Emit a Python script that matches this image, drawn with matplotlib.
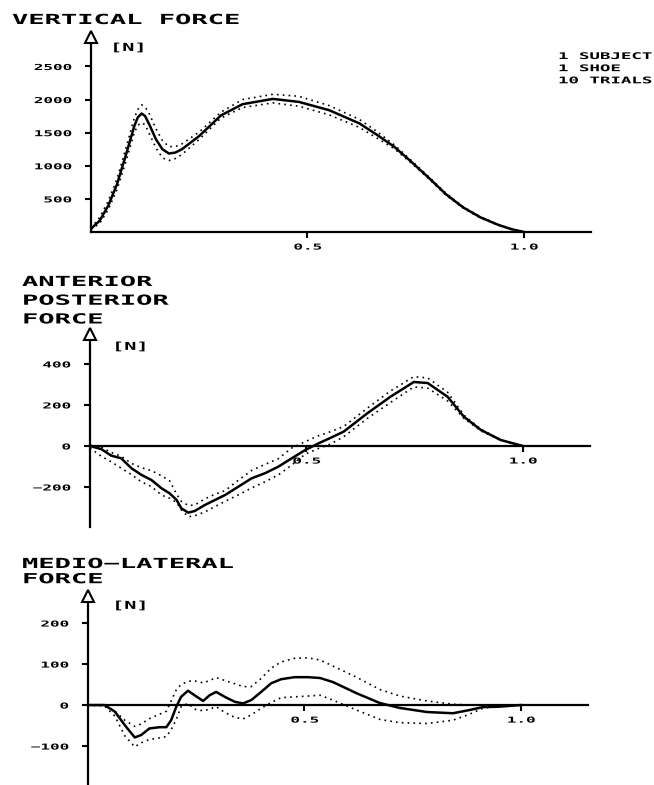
import numpy as np
import matplotlib
matplotlib.use("Agg")
import matplotlib.pyplot as plt
from matplotlib.patheffects import AbstractPathEffect
from matplotlib.transforms import Affine2D

plt.rcParams['font.family'] = 'DejaVu Sans Mono'
plt.rcParams['font.weight'] = 'bold'

# vertical force [N], mean and +/- 1 sd of 10 trials
t_vert = [0, 0.02, 0.04, 0.06, 0.08, 0.10, 0.108, 0.117, 0.125, 0.135, 0.15, 0.165, 0.18, 0.195, 0.21,
          0.25, 0.30, 0.35, 0.42, 0.48, 0.55, 0.62, 0.66, 0.70, 0.74, 0.78, 0.82, 0.86, 0.90, 0.94,
          0.97, 1.0]
vert_mean = [50, 170, 400, 720, 1150, 1600, 1730, 1790, 1750, 1620, 1400, 1250, 1185, 1200, 1250,
             1450, 1760, 1930, 2010, 1965, 1840, 1640, 1470, 1290, 1060, 820, 570, 370, 220, 110,
             45, 0]
vert_hi = [60, 220, 470, 800, 1250, 1720, 1850, 1920, 1890, 1780, 1560, 1380, 1290, 1290, 1330,
           1510, 1810, 2000, 2080, 2050, 1910, 1700, 1520, 1320, 1080, 835, 585, 380, 228, 115,
           48, 0]
vert_lo = [40, 130, 340, 640, 1050, 1500, 1610, 1650, 1620, 1480, 1270, 1120, 1080, 1110, 1170,
           1400, 1720, 1880, 1950, 1900, 1770, 1580, 1420, 1260, 1040, 805, 555, 360, 212, 105,
           42, 0]

# anterior-posterior force [N]
t_ap = [0, 0.026, 0.049, 0.072, 0.096, 0.119, 0.142, 0.165, 0.184, 0.2, 0.211, 0.227, 0.242, 0.265,
        0.289, 0.312, 0.343, 0.373, 0.404, 0.435, 0.466, 0.497, 0.528, 0.556, 0.586, 0.641, 0.694,
        0.748, 0.78, 0.826, 0.864, 0.903, 0.949, 1.0]
ap_mean = [0, -15, -47, -60, -109, -141, -166, -206, -231, -263, -304, -325, -317, -288,
           -263, -239, -198, -158, -133, -101, -60, -20, 13, 40, 70, 160, 240,
           312, 307, 240, 142, 78, 29, 0]
ap_hi = [5, -5, -32, -50, -85, -106, -120, -145, -170, -235, -270, -290, -288, -258,
         -235, -218, -166, -120, -90, -62, -10, 21, 50, 70, 95, 185, 268,
         338, 332, 262, 150, 82, 30, 0]
ap_lo = [-10, -50, -77, -108, -140, -175, -198, -239, -255, -275, -312, -345, -340, -322,
         -295, -270, -238, -205, -175, -141, -93, -40, -12, 10, 45, 135, 212,
         288, 282, 220, 134, 74, 27, 0]

# medio-lateral force [N]
t_ml = [0, 0.038, 0.062, 0.085, 0.108, 0.123, 0.142, 0.166, 0.181, 0.192, 0.204, 0.215, 0.231,
        0.246, 0.266, 0.281, 0.296, 0.316, 0.339, 0.358, 0.377, 0.4, 0.423, 0.446, 0.477, 0.508,
        0.536, 0.566, 0.62, 0.674, 0.72, 0.783, 0.843, 0.882, 0.912, 0.95, 1.0]
ml_mean = [0, 0, -16, -49, -79, -73, -57, -54, -54, -37, -4, 20, 35,
           24, 10, 24, 32, 20, 8, 4, 12, 32, 53, 63, 68, 68,
           66, 56, 29, 5, -7, -17, -20, -12, -5, -4, 0]
ml_hi = [0, 0, -15, -37, -52, -46, -33, -22, -15, 10, 37, 50, 58,
         59, 54, 60, 67, 60, 52, 45, 45, 65, 90, 105, 114, 115,
         110, 95, 68, 38, 22, 10, 2, 0, 0, 0, 0]
ml_lo = [0, -2, -27, -75, -102, -92, -84, -80, -77, -60, -35, -4, 4,
         -10, -14, -10, -4, -18, -30, -34, -24, -8, 6, 18, 20, 22,
         24, 12, -12, -35, -43, -45, -37, -22, -8, -2, 0]

x_ticks = [0.5, 1.0]
x_labels = ['0.5', '1.0']
vert_ticks = [500, 1000, 1500, 2000, 2500]
ap_ticks = [-200, 0, 200, 400]
ml_ticks = [-100, 0, 100, 200]


class Stretch(AbstractPathEffect):
    # widen the glyphs, old plotter lettering is very wide
    def __init__(self, sx=1.9, anchor='left'):
        super().__init__()
        self.sx = sx
        self.anchor = anchor

    def draw_path(self, renderer, gc, tpath, affine, rgbFace=None):
        xs = tpath.vertices[:, 0]
        if len(xs) == 0:
            return
        if self.anchor == 'right':
            x0 = xs.max()
        elif self.anchor == 'center':
            x0 = (xs.min() + xs.max()) / 2
        else:
            x0 = 0
        tr = Affine2D().translate(-x0, 0).scale(self.sx, 1).translate(x0, 0)
        renderer.draw_path(gc, tpath, tr + affine, rgbFace)


W, H = 654, 785
fig = plt.figure(figsize=(W / 100, H / 100), dpi=100)


def ftext(px, py, s, size, sx, **kw):
    return fig.text(px / W, 1 - py / H, s, fontsize=size,
                    path_effects=[Stretch(sx, 'left')], **kw)


def panel(left, top, bottom, ylim, yticks, t, mean, hi, lo):
    # left/top/bottom in pixels, width fixed for xlim 0..1.155
    ax = fig.add_axes([left / W, 1 - bottom / H, 500 / W, (bottom - top) / H])
    ax.set_xlim(0, 1.155)
    ax.set_ylim(*ylim)
    ax.plot(t, hi, color='k', lw=1.2, ls=(0, (1, 2.5)))
    ax.plot(t, lo, color='k', lw=1.2, ls=(0, (1, 2.5)))
    ax.plot(t, mean, color='k', lw=1.8)
    ax.spines['top'].set_visible(False)
    ax.spines['right'].set_visible(False)
    ax.spines['bottom'].set_position(('data', 0))
    ax.spines['left'].set_linewidth(1.6)
    ax.spines['bottom'].set_linewidth(1.6)
    ax.patch.set_visible(False)
    ax.set_xticks(x_ticks, x_labels)
    ax.set_yticks(yticks, [str(v).replace('-', '\u2212') for v in yticks])
    ax.tick_params(axis='y', direction='out', length=4, width=1.5, pad=10, labelsize=5.9)
    ax.tick_params(axis='x', direction='out', length=4, width=1.5, pad=3.6, labelsize=5.9)
    for lab in ax.get_yticklabels():
        lab.set_path_effects([Stretch(1.95, 'right')])
    for lab in ax.get_xticklabels():
        lab.set_path_effects([Stretch(1.95, 'center')])
    # open arrow head on the force axis
    ax.plot(0, ylim[1], marker='^', ms=9, mfc='white', mec='k', mew=1.5,
            clip_on=False, zorder=5)
    return ax


panel(91, 37, 232, (0, 2945), vert_ticks, t_vert, vert_mean, vert_hi, vert_lo)
panel(90, 334, 527, (-395, 546), ap_ticks, t_ap, ap_mean, ap_hi, ap_lo)
panel(88, 596, 785, (-195, 266), ml_ticks, t_ml, ml_mean, ml_hi, ml_lo)

ftext(12, 13, 'VERTICAL FORCE', 10, 1.95, va='top')
ftext(22, 275, 'ANTERIOR\nPOSTERIOR\nFORCE', 10, 1.95, va='top', linespacing=1.43)
ftext(22, 557, 'MEDIO\u2212LATERAL\nFORCE', 10, 1.95, va='top', linespacing=1.11)

ftext(110, 48, '[N]', 7.9, 1.85, va='center')
ftext(112, 347, '[N]', 7.9, 1.85, va='center')
ftext(112, 606, '[N]', 7.9, 1.85, va='center')

ftext(558, 52, '1 SUBJECT\n1 SHOE\n10 TRIALS', 6.6, 1.9, va='top', linespacing=1.45)

fig.savefig('out.png', dpi=100)
